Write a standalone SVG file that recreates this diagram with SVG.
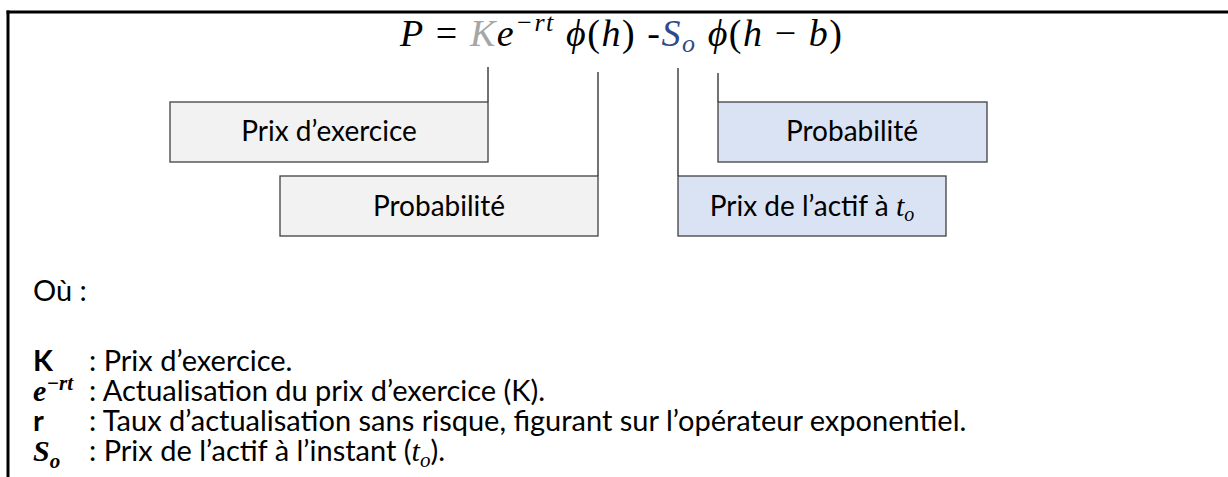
<svg xmlns="http://www.w3.org/2000/svg" width="1228" height="477" viewBox="0 0 1228 477">
<style>
.f{font-family:"Liberation Serif",serif;font-style:italic;font-size:38px;fill:#000}
.rm{font-style:normal}
.bt{font-family:Lato,"Liberation Sans",sans-serif;font-size:28px;fill:#000;text-anchor:middle}
.body{font-family:Lato,"Liberation Sans",sans-serif;font-size:29px;fill:#000}
.lbl{font-family:Lato,"Liberation Sans",sans-serif;font-size:29px;font-weight:bold;fill:#000}
.lm{font-family:"Liberation Serif",serif;font-style:italic;font-weight:bold;font-size:30px;fill:#000}
.mi{font-family:"Liberation Serif",serif;font-style:italic}
.gray{fill:#f2f2f2;stroke:#404040;stroke-width:1.3}
.blue{fill:#dae3f3;stroke:#404040;stroke-width:1.3}
.lead{stroke:#262626;stroke-width:1.3;fill:none}
</style>
<rect x="0" y="0" width="1228" height="477" fill="#fff"/>
<g id="frame" stroke="#000" stroke-width="3" fill="none">
<line x1="6.5" y1="12" x2="1228" y2="12"/>
<line x1="8" y1="10.5" x2="8" y2="477"/>
</g>
<g id="formula">
<text class="f" x="400" y="46" textLength="442" xml:space="preserve">P<tspan class="rm"> = </tspan><tspan fill="#a6a6a6">K</tspan>e<tspan font-size="26px" dy="-15">−rt</tspan><tspan dy="15"> ϕ</tspan><tspan class="rm">(</tspan>h<tspan class="rm">) -</tspan><tspan fill="#2f4b87">S</tspan><tspan fill="#2f4b87" font-size="26px" dy="6">o</tspan><tspan dy="-6"> ϕ</tspan><tspan class="rm">(</tspan>h<tspan class="rm"> − </tspan>b<tspan class="rm">)</tspan></text>
</g>
<g id="connectors">
<line class="lead" x1="488" y1="67" x2="488" y2="102"/>
<line class="lead" x1="598" y1="72" x2="598" y2="176"/>
<line class="lead" x1="678" y1="68" x2="678" y2="176"/>
<line class="lead" x1="718" y1="73" x2="718" y2="102"/>
</g>
<g id="box-prix-exercice">
<rect class="gray" x="170" y="102" width="318" height="60"/>
<text class="bt" x="329" y="141">Prix d’exercice</text>
</g>
<g id="box-probabilite-1">
<rect class="gray" x="280" y="176" width="318" height="60"/>
<text class="bt" x="439" y="216">Probabilité</text>
</g>
<g id="box-probabilite-2">
<rect class="blue" x="718" y="102" width="269" height="60"/>
<text class="bt" x="852" y="141">Probabilité</text>
</g>
<g id="box-prix-actif">
<rect class="blue" x="678" y="176" width="268" height="60"/>
<text class="bt" x="812" y="216">Prix de l’actif à <tspan class="mi" font-size="30px">t</tspan><tspan class="mi" font-size="20px" dy="5">o</tspan></text>
</g>
<g id="legend">
<text class="body" x="33" y="301">Où :</text>
<text class="lbl" x="33" y="371">K</text>
<text class="body" x="89" y="371">: Prix d’exercice.</text>
<text class="lm" x="33" y="401">e<tspan font-size="21px" dy="-11">−rt</tspan></text>
<text class="body" x="89" y="401">: Actualisation du prix d’exercice (K).</text>
<text class="lbl" x="33" y="431">r</text>
<text class="body" x="89" y="431">: Taux d’actualisation sans risque, figurant sur l’opérateur exponentiel.</text>
<text class="lm" x="33" y="461">S<tspan font-size="21px" dy="7">o</tspan></text>
<text class="body" x="89" y="461">: Prix de l’actif à l’instant (<tspan class="mi" font-size="30px">t</tspan><tspan class="mi" font-size="21px" dy="6">o</tspan><tspan dy="-6">).</tspan></text>
</g>
</svg>
